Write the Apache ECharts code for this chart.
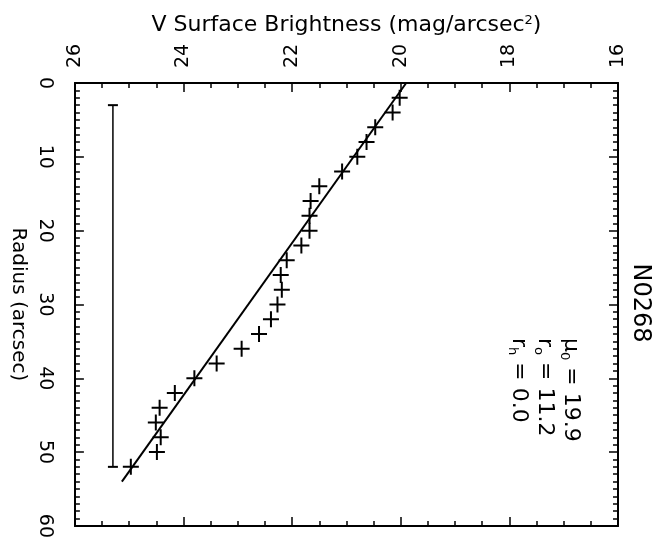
<!DOCTYPE html>
<html>
<head>
<meta charset="utf-8">
<script src="https://cdn.jsdelivr.net/npm/echarts@6/dist/echarts.min.js"></script>
<style>
  html, body { margin: 0; padding: 0; background: #fff; }
  #chart { width: 655px; height: 541px; }
</style>
</head>
<body>
<div id="chart"></div>
<script>
// Surface-brightness profile of N0268, drawn turned on its side:
// radius runs down the page, surface brightness runs across (fainter to the left).
const radius = [2, 4, 6, 8, 10, 12, 14, 16, 18, 20, 22, 24, 26, 28, 30, 32, 34, 36, 38, 40, 42, 44, 46, 48, 50, 52];
const surfaceBrightness = [20.02, 20.15, 20.47, 20.63, 20.80, 21.08, 21.50, 21.66, 21.68, 21.68, 21.83, 22.10, 22.21, 22.19,
                           22.27, 22.39, 22.61, 22.93, 23.39, 23.80, 24.16, 24.44, 24.51, 24.42, 24.49, 24.97];
const brightnessTicks = [16, 18, 20, 22, 24, 26];
const radiusTicks = [0, 10, 20, 30, 40, 50, 60];

// Exponential-disk fit parameters (as printed on the plot)
const mu0 = 19.9;
const r0 = 11.2;
const rh = 0.0;
const fitRadius = [0, 54];

// Radial range used for the fit, drawn as a bar at a faint level
const fitRangeRadius = [3, 52];
const fitRangeLevel = 25.3;

const FONT = 'DejaVu Sans';
const INK = '#000';

const points = radius.map((r, i) => [surfaceBrightness[i], r]);
const magPerScale = 2.5 * Math.log10(Math.E);
const fitLine = fitRadius.map(r => [mu0 + magPerScale * r / r0, r]);
const rangeBar = fitRangeRadius.map(r => [fitRangeLevel, r]);

const plusPath = 'path://M7,0H9V7H16V9H9V16H7V9H0V7H7Z';

const bMin = Math.min(...brightnessTicks), bMax = Math.max(...brightnessTicks);
const bStep = brightnessTicks[1] - brightnessTicks[0];
const rMin = Math.min(...radiusTicks), rMax = Math.max(...radiusTicks);
const rStep = radiusTicks[1] - radiusTicks[0];

const tickStyle = { color: INK, width: 1.5 };
const lineStyle = { color: INK, width: 2 };

function brightnessAxis(pos, labelled) {
  const ax = {
    type: 'value', position: pos, min: bMin, max: bMax, interval: bStep, inverse: true,
    axisLine: { show: true, onZero: false, lineStyle },
    axisTick: { show: true, inside: true, length: 9, lineStyle: tickStyle },
    minorTick: { show: true, splitNumber: 4, length: 5, lineStyle: tickStyle },
    splitLine: { show: false },
    axisLabel: { show: labelled }
  };
  if (labelled) {
    ax.axisLabel = {
      show: true, rotate: -90, align: 'left', verticalAlign: 'middle', margin: 15,
      fontFamily: FONT, fontSize: 19, color: INK
    };
    ax.name = 'V Surface Brightness (mag/arcsec{sup|2})';
    ax.nameLocation = 'middle';
    ax.nameGap = 41;
    ax.nameTextStyle = {
      fontFamily: FONT, fontSize: 22, color: INK,
      rich: { sup: { fontFamily: FONT, fontSize: 13, color: INK, verticalAlign: 'top', lineHeight: 13 } }
    };
  }
  return ax;
}

function radiusAxis(pos, labelled) {
  const ax = {
    type: 'value', position: pos, min: rMin, max: rMax, interval: rStep, inverse: true,
    axisLine: { show: true, onZero: false, lineStyle },
    axisTick: { show: true, inside: true, length: 9, lineStyle: tickStyle },
    minorTick: { show: true, splitNumber: 10, length: 5, lineStyle: tickStyle },
    splitLine: { show: false },
    axisLabel: { show: labelled }
  };
  if (labelled) {
    ax.axisLabel = {
      show: true, rotate: -90, align: 'center', verticalAlign: 'top', margin: 20,
      fontFamily: FONT, fontSize: 19, color: INK
    };
    ax.name = 'Radius (arcsec)';
    ax.nameLocation = 'middle';
    ax.nameRotate = -90;
    ax.nameGap = 44;
    ax.nameTextStyle = { fontFamily: FONT, fontSize: 20, color: INK };
  }
  return ax;
}

const chart = echarts.init(document.getElementById('chart'));
chart.setOption({
  backgroundColor: '#fff',
  animation: false,
  grid: { left: 67, right: 37, top: 83, bottom: 14 },
  xAxis: [brightnessAxis('top', true), brightnessAxis('bottom', false)],
  yAxis: [radiusAxis('left', true), radiusAxis('right', false)],
  series: [
    {
      name: 'profile', type: 'scatter', data: points,
      symbol: plusPath, symbolSize: 16,
      itemStyle: { color: INK, opacity: 1 }, silent: true
    },
    {
      name: 'fit', type: 'line', data: fitLine, showSymbol: false,
      lineStyle: { color: INK, width: 2 }, silent: true
    },
    {
      name: 'fit range', type: 'line', data: rangeBar,
      symbol: 'rect', symbolSize: [10, 2], showSymbol: true,
      itemStyle: { color: INK, opacity: 1 }, lineStyle: { color: INK, width: 1.5 }, silent: true
    }
  ],
  graphic: [
    {
      type: 'text', x: 640, y: 303, rotation: -Math.PI / 2,
      style: {
        text: 'N0268', font: '24px "' + FONT + '"', fill: INK,
        align: 'center', verticalAlign: 'middle', textAlign: 'center', textVerticalAlign: 'middle'
      }
    },
    {
      type: 'text', x: 584, y: 338, rotation: -Math.PI / 2,
      style: {
        text: '{t|μ}{s|0}{t| = ' + mu0.toFixed(1) + '}\n{t|r}{s|o}{t| = ' + r0.toFixed(1) + '}\n{t|r}{s|h}{t| = ' + rh.toFixed(1) + '}',
        fill: INK, align: 'left', verticalAlign: 'top', textAlign: 'left', textVerticalAlign: 'top',
        rich: {
          t: { fontFamily: FONT, fontSize: 22, lineHeight: 26, fill: INK, color: INK },
          s: { fontFamily: FONT, fontSize: 13, lineHeight: 13, verticalAlign: 'bottom', fill: INK, color: INK }
        }
      }
    }
  ]
});
</script>
</body>
</html>
